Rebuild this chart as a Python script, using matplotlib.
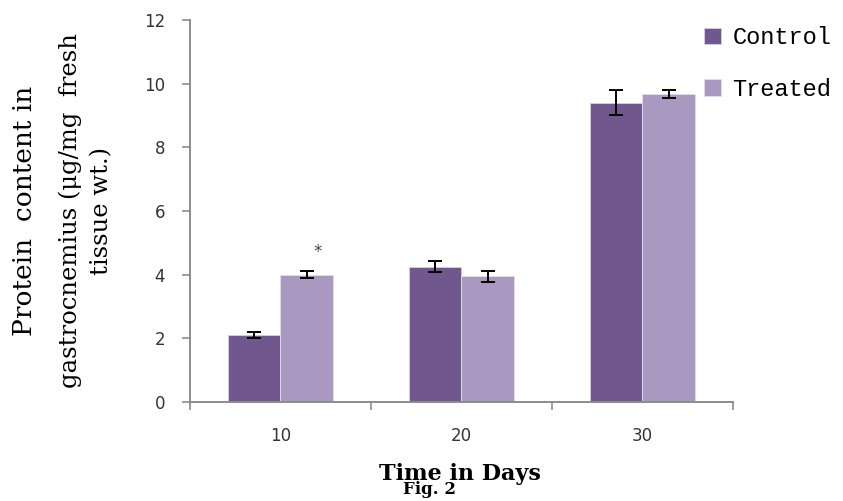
import matplotlib.pyplot as plt
import numpy as np

dias = ["10", "20", "30"]
controle = [2.1, 4.25, 9.4]
controle_err = [0.1, 0.18, 0.4]
tratado = [4.0, 3.95, 9.68]
tratado_err = [0.12, 0.17, 0.13]

cor_controle = "#70588e"
cor_tratado = "#a999c0"
cinza = "#8c8c8c"


def grafico():
    fig = plt.figure(figsize=(8.43, 5.01), dpi=100)
    ax = fig.add_axes([0.2254, 0.1976, 0.644, 0.7625])

    x = np.arange(len(dias))
    largura = 0.29
    erro_kw = dict(ecolor="black", elinewidth=1.4, capsize=5, capthick=1.4)

    ax.bar(x - largura / 2, controle, largura, yerr=controle_err,
           color=cor_controle, edgecolor="#d8d0e4", linewidth=0.6,
           error_kw=erro_kw, label="Control")
    ax.bar(x + largura / 2, tratado, largura, yerr=tratado_err,
           color=cor_tratado, edgecolor="#e4dfec", linewidth=0.6,
           error_kw=erro_kw, label="Treated")

    # asterisco de significancia
    ax.text(x[0] + largura / 2 + 0.06, tratado[0] + tratado_err[0] + 0.6, "*",
            ha="center", va="center", fontsize=12, color="#444444")

    ax.set_xlim(-0.5, len(dias) - 0.5)
    ax.set_ylim(0, 12)
    ax.set_yticks(range(0, 13, 2))

    ax.set_xticks(x)
    ax.set_xticklabels(dias)
    ax.set_xticks(np.arange(-0.5, len(dias), 1), minor=True)
    ax.tick_params(axis="x", which="major", length=0, pad=18,
                   labelsize=12, labelcolor="#333333")
    ax.tick_params(axis="x", which="minor", length=6, width=1.2, color=cinza,
                   direction="out")
    ax.tick_params(axis="y", length=6, width=1.2, color=cinza, pad=12,
                   labelsize=12, labelcolor="#333333")

    for lado in ["top", "right"]:
        ax.spines[lado].set_visible(False)
    for lado in ["left", "bottom"]:
        ax.spines[lado].set_color(cinza)
        ax.spines[lado].set_linewidth(1.4)

    fig.legend(loc="upper left", bbox_to_anchor=(0.81, 0.99),
               frameon=False, handlelength=0.7, handleheight=0.7,
               handletextpad=0.5, labelspacing=1.2,
               prop={"family": "Liberation Mono", "size": 17})

    fig.text(0.029, 0.579, "Protein  content in", rotation=90, ha="center",
             va="center", family="DejaVu Serif", fontsize=19)
    fig.text(0.083, 0.579, "gastrocnemius (\u03bcg/mg  fresh", rotation=90,
             ha="center", va="center", family="DejaVu Serif", fontsize=17.5)
    fig.text(0.121, 0.579, "tissue wt.)", rotation=90, ha="center",
             va="center", family="DejaVu Serif", fontsize=17.5)

    fig.text(0.546, 0.054, "Time in Days", ha="center", va="center",
             family="DejaVu Serif", fontweight="bold", fontsize=16)
    fig.text(0.51, 0.022, "Fig. 2", ha="center", va="center",
             family="DejaVu Serif", fontweight="bold", fontsize=12)

    plt.savefig("out.png", dpi=100)


if __name__ == "__main__":
    grafico()
